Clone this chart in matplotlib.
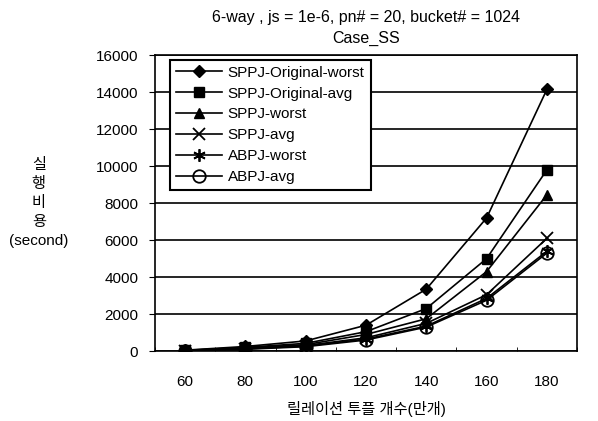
import numpy as np
import matplotlib.pyplot as plt

plt.rcParams['font.family'] = ['Liberation Sans', 'Noto Sans CJK KR', 'DejaVu Sans']

# data
categories = ['60', '80', '100', '120', '140', '160', '180']
orig_worst = [50, 250, 550, 1400, 3350, 7200, 14150]
orig_avg = [40, 200, 420, 1050, 2300, 5000, 9800]
sppj_worst = [35, 170, 350, 900, 1750, 4300, 8450]
sppj_avg = [30, 140, 300, 720, 1500, 3050, 6100]
abpj_worst = [25, 120, 270, 650, 1350, 2850, 5400]
abpj_avg = [20, 100, 240, 600, 1300, 2750, 5300]

series = [
    ("SPPJ-Original-worst", orig_worst, "D", dict(markersize=6)),
    ("SPPJ-Original-avg", orig_avg, "s", dict(markersize=7)),
    ("SPPJ-worst", sppj_worst, "^", dict(markersize=7)),
    ("SPPJ-avg", sppj_avg, "x", dict(markersize=8, markeredgewidth=1.3)),
    ("ABPJ-worst", abpj_worst, (6, 2, 0), dict(markersize=9, markeredgewidth=1.3)),
    ("ABPJ-avg", abpj_avg, "o", dict(markersize=9, markerfacecolor="none", markeredgewidth=1.3)),
]

fig = plt.figure(figsize=(5.98, 4.21), dpi=100)
ax = fig.add_axes([0.259, 0.166, 0.706, 0.703])

x = np.arange(len(categories))
for name, vals, mk, kw in series:
    ax.plot(x, vals, color="black", linewidth=1.2, marker=mk,
            markeredgecolor="black", label=name, **kw)

ax.set_xlim(-0.5, len(categories) - 0.5)
ax.set_ylim(0, 16000)
ax.set_yticks(np.arange(0, 16001, 2000))
ax.set_xticks(x)
ax.set_xticklabels(categories)
ax.set_xticks(np.arange(-0.5, len(categories), 1), minor=True)
ax.tick_params(axis="x", which="major", length=0, labelsize=11, pad=17)
ax.tick_params(axis="x", which="minor", direction="in", length=3)
ax.tick_params(axis="y", direction="out", length=4, labelsize=11, pad=8)
ax.yaxis.grid(True, color="black", linewidth=1.2)
ax.set_axisbelow(True)
for sp in ax.spines.values():
    sp.set_linewidth(1.2)

ax.set_ylabel("실\n행\n비\n용\n(second)", rotation=0, fontsize=11,
              ha="center", va="center", linespacing=1.45)
ax.yaxis.set_label_coords(-0.275, 0.5)
ax.set_xlabel("릴레이션 투플 개수(만개)", fontsize=11, labelpad=9)
ax.set_title("6-way , js = 1e-6, pn# = 20, bucket# = 1024\nCase_SS",
             fontsize=11.5, pad=9, linespacing=1.45)

leg = ax.legend(loc="upper left", bbox_to_anchor=(0.035, 0.985), fontsize=11,
                frameon=True, fancybox=False, edgecolor="black",
                handlelength=3, labelspacing=0.45, borderpad=0.4,
                handletextpad=0.4, borderaxespad=0)
leg.get_frame().set_linewidth(1.5)
leg.get_frame().set_alpha(1)

fig.savefig("out.png", dpi=100)
